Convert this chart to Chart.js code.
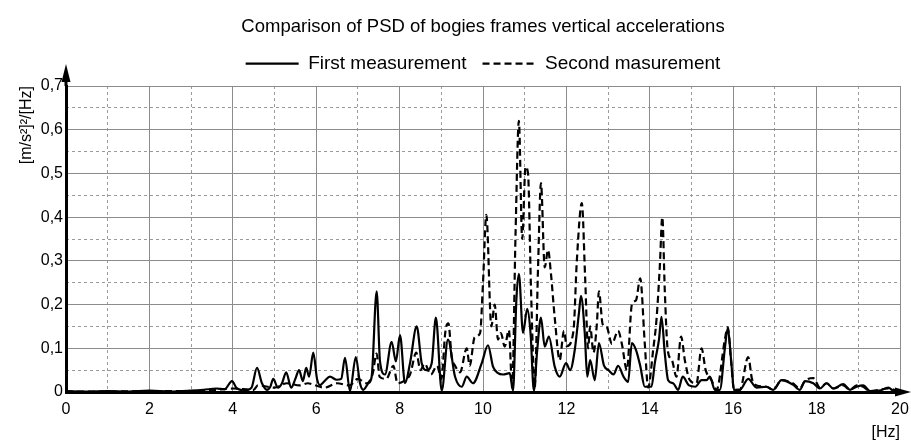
<!DOCTYPE html>
<html>
<head>
<meta charset="utf-8">
<script src="https://cdn.jsdelivr.net/npm/chart.js@4.4.0/dist/chart.umd.min.js"></script>
<style>
  html, body { margin: 0; padding: 0; background: #fff; }
  #wrap { width: 911px; height: 444px; }
</style>
</head>
<body>
<div id="wrap"><canvas id="psdChart"></canvas></div>
<script>
// frequencies [Hz] and PSD values
const freqFirst = [0, 0.5, 1, 1.5, 2, 2.5, 3, 3.3, 3.6, 3.8, 3.98, 4.1, 4.3, 4.45, 4.58, 4.7, 4.82, 4.9, 4.97, 5.08,
  5.18, 5.28, 5.4, 5.5, 5.59, 5.68, 5.76, 5.83, 5.93, 6.02, 6.09, 6.2, 6.33, 6.49, 6.6, 6.69, 6.81, 6.95, 7.05, 7.13,
  7.25, 7.33, 7.45, 7.53, 7.65, 7.81, 7.91, 8.01, 8.13, 8.25, 8.41, 8.53, 8.65, 8.77, 8.87, 9.01, 9.16, 9.33, 9.49, 9.61,
  9.76, 9.97, 10.12, 10.24, 10.36, 10.48, 10.64, 10.72, 10.8, 10.86, 10.96, 11.06, 11.14, 11.22, 11.3, 11.39, 11.48, 11.58, 11.72, 11.84,
  11.99, 12.09, 12.2, 12.3, 12.35, 12.44, 12.5, 12.57, 12.68, 12.78, 12.9, 13.01, 13.13, 13.24, 13.37, 13.48, 13.57, 13.67, 13.77, 13.88,
  14.04, 14.12, 14.22, 14.28, 14.36, 14.44, 14.56, 14.68, 14.79, 14.94, 15.09, 15.24, 15.36, 15.44, 15.56, 15.68, 15.8, 15.87, 15.95, 16.02,
  16.16, 16.36, 16.56, 16.8, 16.96, 17.16, 17.43, 17.6, 17.72, 17.92, 18.08, 18.24, 18.4, 18.64, 18.8, 18.96, 19.12, 19.28, 19.5, 19.72,
  19.85, 20];
const firstMeasurement = [0.002, 0.001, 0.002, 0.001, 0.003, 0.001, 0.003, 0.005, 0.008, 0.006, 0.025, 0.008, 0.004, 0.01, 0.055, 0.02, 0.005, 0.012, 0.03, 0.01,
  0.02, 0.045, 0.01, 0.03, 0.05, 0.025, 0.055, 0.035, 0.09, 0.03, 0.016, 0.025, 0.035, 0.028, 0.03, 0.078, 0.002, 0.08, 0.02, 0.005,
  0.02, 0.035, 0.23, 0.07, 0.04, 0.115, 0.07, 0.13, 0.02, 0.066, 0.15, 0.066, 0.05, 0.066, 0.17, 0.003, 0.12, 0.035, 0.012, 0.035,
  0.02, 0.066, 0.107, 0.058, 0.043, 0.04, 0.043, 0.003, 0.21, 0.27, 0.135, 0.19, 0.135, 0.003, 0.096, 0.17, 0.104, 0.127, 0.058, 0.035,
  0.066, 0.05, 0.096, 0.18, 0.22, 0.135, 0.035, 0.073, 0.027, 0.112, 0.061, 0.05, 0.04, 0.06, 0.035, 0.023, 0.112, 0.096, 0.06, 0.012,
  0.012, 0.066, 0.12, 0.172, 0.088, 0.027, 0.02, 0.005, 0.035, 0.015, 0.012, 0.027, 0.027, 0.035, 0.005, 0.005, 0.1, 0.146, 0.073, 0.005,
  0.005, 0.03, 0.01, 0.012, 0.005, 0.027, 0.017, 0.005, 0.025, 0.02, 0.008, 0.02, 0.008, 0.018, 0.005, 0.012, 0.015, 0.002, 0.003, 0.01,
  0.002, 0.001];

const freqSecond = [0, 1, 2, 3, 3.5, 4, 4.5, 4.6, 5, 5.3, 5.6, 5.8, 5.95, 6.2, 6.5, 6.8, 7, 7.2, 7.35, 7.45,
  7.52, 7.68, 7.85, 7.95, 8.1, 8.25, 8.4, 8.5, 8.6, 8.75, 8.9, 9, 9.1, 9.17, 9.25, 9.33, 9.45, 9.61, 9.68, 9.8,
  9.93, 10, 10.08, 10.2, 10.28, 10.36, 10.43, 10.52, 10.62, 10.7, 10.78, 10.86, 10.94, 11.02, 11.08, 11.15, 11.24, 11.32, 11.39, 11.48,
  11.56, 11.63, 11.72, 11.84, 11.94, 12.01, 12.17, 12.25, 12.37, 12.45, 12.52, 12.57, 12.65, 12.73, 12.78, 12.87, 12.97, 13.09, 13.24, 13.33,
  13.45, 13.57, 13.67, 13.77, 13.88, 13.96, 14.08, 14.16, 14.24, 14.3, 14.36, 14.43, 14.53, 14.64, 14.75, 14.84, 14.96, 15.12, 15.24, 15.34,
  15.48, 15.6, 15.8, 15.87, 15.95, 16.02, 16.16, 16.36, 16.45, 16.56, 16.8, 16.96, 17.16, 17.43, 17.6, 17.72, 17.92, 18.08, 18.24, 18.4,
  18.64, 18.8, 18.96, 19.12, 19.28, 19.72, 20];
const secondMeasurement = [0.001, 0.001, 0.002, 0.002, 0.004, 0.008, 0.005, 0.015, 0.01, 0.02, 0.015, 0.02, 0.016, 0.01, 0.02, 0.015, 0.03, 0.02, 0.04, 0.088,
  0.035, 0.03, 0.06, 0.02, 0.025, 0.04, 0.09, 0.05, 0.065, 0.04, 0.06, 0.03, 0.14, 0.157, 0.08, 0.06, 0.045, 0.1, 0.06, 0.125,
  0.135, 0.25, 0.405, 0.15, 0.2, 0.12, 0.135, 0.104, 0.142, 0.01, 0.36, 0.62, 0.35, 0.515, 0.5, 0.24, 0.01, 0.285, 0.478, 0.285,
  0.325, 0.27, 0.17, 0.073, 0.14, 0.105, 0.14, 0.3, 0.432, 0.26, 0.1, 0.15, 0.09, 0.155, 0.23, 0.155, 0.148, 0.11, 0.14, 0.11,
  0.05, 0.2, 0.21, 0.26, 0.11, 0.01, 0.096, 0.165, 0.287, 0.4, 0.23, 0.096, 0.073, 0.035, 0.127, 0.073, 0.027, 0.02, 0.1, 0.05,
  0.027, 0.005, 0.12, 0.148, 0.07, 0.005, 0.005, 0.08, 0.03, 0.015, 0.012, 0.005, 0.027, 0.02, 0.008, 0.025, 0.032, 0.01, 0.02, 0.008,
  0.015, 0.005, 0.015, 0.012, 0.002, 0.008, 0.001];

const seriesNames = ['First measurement', 'Second masurement'];
const xRange = [0, 20];
const yRange = [0, 0.7];

const toPoints = (xs, ys) => xs.map((f, i) => ({ x: f, y: ys[i] }));
const commaLabel = v => (v === 0 ? '0' : Number(v).toFixed(1).replace('.', ','));
const family = 'Liberation Sans, Arial, sans-serif';
const tickFont = { family, size: 16 };

// arrow heads at the ends of both axes
const axisArrows = {
  id: 'axisArrows',
  afterDraw(chart) {
    const { ctx, chartArea: a } = chart;
    ctx.save();
    ctx.strokeStyle = '#000';
    ctx.fillStyle = '#000';
    ctx.lineWidth = 3;
    ctx.beginPath();
    ctx.moveTo(a.left, a.top);
    ctx.lineTo(a.left, a.top - 8);
    ctx.moveTo(a.right, a.bottom);
    ctx.lineTo(a.right + 2, a.bottom);
    ctx.stroke();
    ctx.beginPath();
    ctx.moveTo(a.left, a.top - 22);
    ctx.lineTo(a.left - 4.5, a.top - 4);
    ctx.lineTo(a.left + 4.5, a.top - 4);
    ctx.closePath();
    ctx.fill();
    ctx.beginPath();
    ctx.moveTo(a.right + 11, a.bottom);
    ctx.lineTo(a.right - 5, a.bottom - 4.5);
    ctx.lineTo(a.right - 5, a.bottom + 4.5);
    ctx.closePath();
    ctx.fill();
    ctx.restore();
  }
};

new Chart(document.getElementById('psdChart'), {
  type: 'line',
  data: {
    datasets: [{
      label: seriesNames[0],
      data: toPoints(freqFirst, firstMeasurement),
      borderColor: '#000',
      backgroundColor: '#000',
      borderWidth: 2.2,
      pointRadius: 0,
      cubicInterpolationMode: 'monotone'
    }, {
      label: seriesNames[1],
      data: toPoints(freqSecond, secondMeasurement),
      borderColor: '#000',
      backgroundColor: '#000',
      borderWidth: 2.2,
      borderDash: [7, 4],
      pointRadius: 0,
      cubicInterpolationMode: 'monotone'
    }]
  },
  options: {
    responsive: true,
    maintainAspectRatio: false,
    animation: false,
    layout: { padding: { left: 0, right: 0, top: 0, bottom: 0 } },
    plugins: {
      title: {
        display: true,
        fullSize: false,
        text: 'Comparison of PSD of bogies frames vertical accelerations',
        color: '#000',
        font: { family, size: 18.5, weight: 'normal' },
        padding: { top: 16, bottom: 0 }
      },
      // empty spacer between the legend and the plot
      subtitle: {
        display: true,
        fullSize: false,
        weight: 500,
        text: '',
        font: { size: 1 },
        padding: { top: 0, bottom: 1.6 }
      },
      legend: {
        fullSize: false,
        labels: {
          color: '#000',
          font: { family, size: 19 },
          boxWidth: 53,
          boxHeight: 0,
          padding: 16
        }
      },
      tooltip: { enabled: false }
    },
    scales: {
      xMinor: {
        type: 'linear', position: 'bottom', min: xRange[0], max: xRange[1],
        ticks: { display: false, stepSize: 1 },
        grid: { color: '#9a9a9a', lineWidth: 1, drawTicks: false },
        border: { display: false, dash: [3, 3] },
        afterFit: s => { s.height = 0; }
      },
      yMinor: {
        type: 'linear', position: 'left', min: yRange[0], max: yRange[1],
        ticks: { display: false, stepSize: 0.05 },
        grid: { color: '#9a9a9a', lineWidth: 1, drawTicks: false },
        border: { display: false, dash: [3, 3] },
        afterFit: s => { s.width = 0; }
      },
      x: {
        type: 'linear', position: 'bottom', min: xRange[0], max: xRange[1],
        ticks: { stepSize: 2, color: '#000', font: tickFont, padding: 8, maxRotation: 0 },
        grid: { color: '#8c8c8c', lineWidth: 1, drawTicks: false },
        border: { color: '#000', width: 3 },
        title: { display: true, text: '[Hz]', align: 'end', color: '#000', font: tickFont, padding: { top: 0, bottom: 2 } },
        afterFit: s => { s.height = 52; s.paddingRight = 11; }
      },
      y: {
        type: 'linear', position: 'left', min: yRange[0], max: yRange[1],
        ticks: { stepSize: 0.1, color: '#000', font: tickFont, padding: 3, callback: commaLabel },
        grid: { color: '#8c8c8c', lineWidth: 1, drawTicks: false },
        border: { color: '#000', width: 3 },
        title: { display: true, text: '[m/s²]²/[Hz]', align: 'end', color: '#000', font: tickFont, padding: { top: 17, bottom: 0 } },
        afterFit: s => { s.width = 66; }
      }
    }
  },
  plugins: [axisArrows]
});
</script>
</body>
</html>
